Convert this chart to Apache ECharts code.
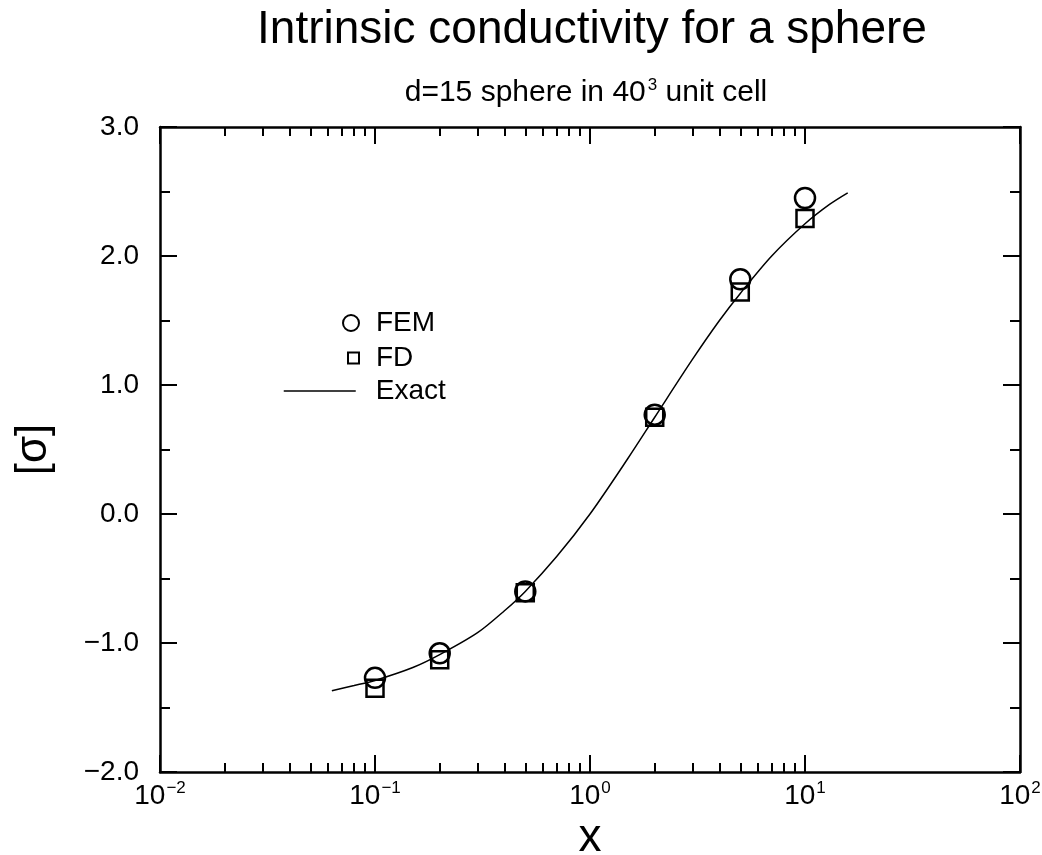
<!DOCTYPE html>
<html>
<head>
<meta charset="utf-8">
<title>Intrinsic conductivity for a sphere</title>
<script src="https://cdn.jsdelivr.net/npm/echarts@6/dist/echarts.min.js"></script>
<style>
  html, body { margin: 0; padding: 0; background: #fff; }
  #chart { width: 1042px; height: 855px; }
</style>
</head>
<body>
<div id="chart"></div>
<script>
  // measured points
  const femX = [0.1, 0.2, 0.5, 2, 5, 10]
  const femY = [-1.27, -1.08, -0.60, 0.77, 1.82, 2.45]
  const fdX = [0.1, 0.2, 0.5, 2, 5, 10]
  const fdY = [-1.35, -1.13, -0.61, 0.75, 1.72, 2.29]

  // exact curve
  const exactX = [0.063, 0.08, 0.1, 0.15, 0.2, 0.3, 0.4, 0.5, 0.7, 1.0, 1.5, 2.0, 3.0, 4.0, 5.0, 7.0, 10.0, 13.0, 15.8]
  const exactY = [-1.37, -1.33, -1.29, -1.19, -1.09, -0.92, -0.75, -0.60, -0.33, 0.00, 0.43, 0.75, 1.20, 1.50, 1.71, 2.00, 2.25, 2.40, 2.49]

  // axes
  const xMin = 0.01, xMax = 100
  const yMin = -2, yMax = 3, yStep = 1
  const xMinorTicks = [2, 3, 4, 5, 6, 7, 8, 9, 20, 30, 40, 50, 60, 70, 80, 90,
    200, 300, 400, 500, 600, 700, 800, 900, 2000, 3000, 4000, 5000, 6000, 7000, 8000, 9000].map(v => v / 1000)

  const font = 'Liberation Sans, Arial, Helvetica, sans-serif'
  const black = '#000'

  const pair = (xs, ys) => xs.map((x, i) => [x, ys[i]])
  const minus = s => String(s).replace('-', '\u2212')

  const chart = echarts.init(document.getElementById('chart'), null, {renderer: 'canvas'})

  const axisLine = {show: true, onZero: false, lineStyle: {color: black, width: 2.5}}
  const majorTick = {show: true, inside: true, length: 17, lineStyle: {color: black, width: 2}}
  const minorTick = {show: true, length: 10, lineStyle: {color: black, width: 2}}

  const logAxis = (position, showLabel) => ({
    type: 'log',
    logBase: 10,
    position: position,
    min: xMin,
    max: xMax,
    interval: 1,
    axisLine: axisLine,
    axisTick: majorTick,
    splitLine: {show: false},
    axisLabel: {
      show: showLabel,
      margin: 8,
      fontFamily: font,
      fontSize: 28,
      color: black,
      formatter: v => '{b|10}{s|' + minus(Math.round(Math.log10(v))) + '}',
      rich: {
        b: {fontFamily: font, fontSize: 28, color: black, lineHeight: 30, verticalAlign: 'bottom'},
        s: {fontFamily: font, fontSize: 17, color: black, lineHeight: 30, verticalAlign: 'top', padding: [0, 0, 12, 1]}
      }
    }
  })

  // minor ticks of the log axis (2..9 in each decade)
  const minorXAxis = position => ({
    type: 'value',
    position: position,
    min: Math.log10(xMin),
    max: Math.log10(xMax),
    axisLine: {show: false, onZero: false},
    splitLine: {show: false},
    axisLabel: {show: false},
    axisTick: {
      show: true, inside: true, length: 9,
      customValues: xMinorTicks.map(v => Math.log10(v)),
      lineStyle: {color: black, width: 2}
    }
  })

  const valAxis = (position, showLabel) => ({
    type: 'value',
    position: position,
    min: yMin,
    max: yMax,
    interval: yStep,
    axisLine: axisLine,
    axisTick: majorTick,
    minorTick: Object.assign({splitNumber: 2}, minorTick),
    splitLine: {show: false},
    minorSplitLine: {show: false},
    axisLabel: {
      show: showLabel,
      margin: 21,
      fontFamily: font,
      fontSize: 28,
      color: black,
      formatter: v => minus(v.toFixed(1))
    }
  })

  const legendText = pad => ({fontFamily: font, fontSize: 28, color: black, padding: [0, 0, 0, pad]})

  let option = {
    backgroundColor: '#fff',
    animation: false,
    color: [black],
    title: [
      {
        text: 'Intrinsic conductivity for a sphere',
        left: 587, top: 2, textAlign: 'center',
        textStyle: {fontFamily: font, fontSize: 46, fontWeight: 'normal', color: black}
      },
      {
        text: 'd=15 sphere in 40{s|3} unit cell',
        left: 581, top: 72, textAlign: 'center',
        textStyle: {
          fontFamily: font, fontSize: 30, fontWeight: 'normal', color: black,
          rich: {
            s: {fontFamily: font, fontSize: 17, color: black, verticalAlign: 'top', padding: [0, 0, 15, 2]}
          }
        }
      }
    ],
    legend: [
      {
        data: ['FEM'], left: 342, top: 309, orient: 'vertical', padding: 0,
        itemWidth: 16, itemHeight: 16, textStyle: legendText(12), selectedMode: false
      },
      {
        data: ['FD'], left: 347, top: 344, orient: 'vertical', padding: 0,
        itemWidth: 11, itemHeight: 11, textStyle: legendText(12), selectedMode: false
      },
      {
        data: ['Exact'], left: 283, top: 377, orient: 'vertical', padding: 0,
        itemWidth: 72, itemHeight: 14, textStyle: legendText(15), selectedMode: false,
        itemStyle: {color: 'rgba(0,0,0,0)', borderWidth: 0},
        lineStyle: {color: black, width: 1.5}
      }
    ],
    grid: {left: 160, right: 22, top: 127, bottom: 83, containLabel: false, outerBoundsMode: 'none'},
    xAxis: [
      Object.assign(logAxis('bottom', true), {
        name: 'x', nameLocation: 'middle', nameGap: 34,
        nameTextStyle: {fontFamily: font, fontSize: 46, color: black}
      }),
      logAxis('top', false),
      minorXAxis('bottom'),
      minorXAxis('top')
    ],
    yAxis: [
      Object.assign(valAxis('left', true), {
        name: '[σ]', nameLocation: 'middle', nameGap: 104, nameRotate: 90,
        nameTextStyle: {fontFamily: font, fontSize: 44, color: black}
      }),
      valAxis('right', false)
    ],
    series: [
      {
        name: 'Exact',
        type: 'line',
        data: pair(exactX, exactY),
        smooth: 0.3,
        showSymbol: false,
        symbol: 'none',
        itemStyle: {color: black},
        lineStyle: {color: black, width: 1.5},
        z: 1
      },
      {
        name: 'FEM',
        type: 'scatter',
        data: pair(femX, femY),
        symbol: 'circle',
        symbolSize: 20,
        itemStyle: {color: 'rgba(0,0,0,0)', borderColor: black, borderWidth: 2.5, opacity: 1},
        z: 3
      },
      {
        name: 'FD',
        type: 'scatter',
        data: pair(fdX, fdY),
        symbol: 'rect',
        symbolSize: 17,
        itemStyle: {color: 'rgba(0,0,0,0)', borderColor: black, borderWidth: 2.5, opacity: 1},
        z: 3
      }
    ]
  }

  chart.setOption(option)
</script>
</body>
</html>
